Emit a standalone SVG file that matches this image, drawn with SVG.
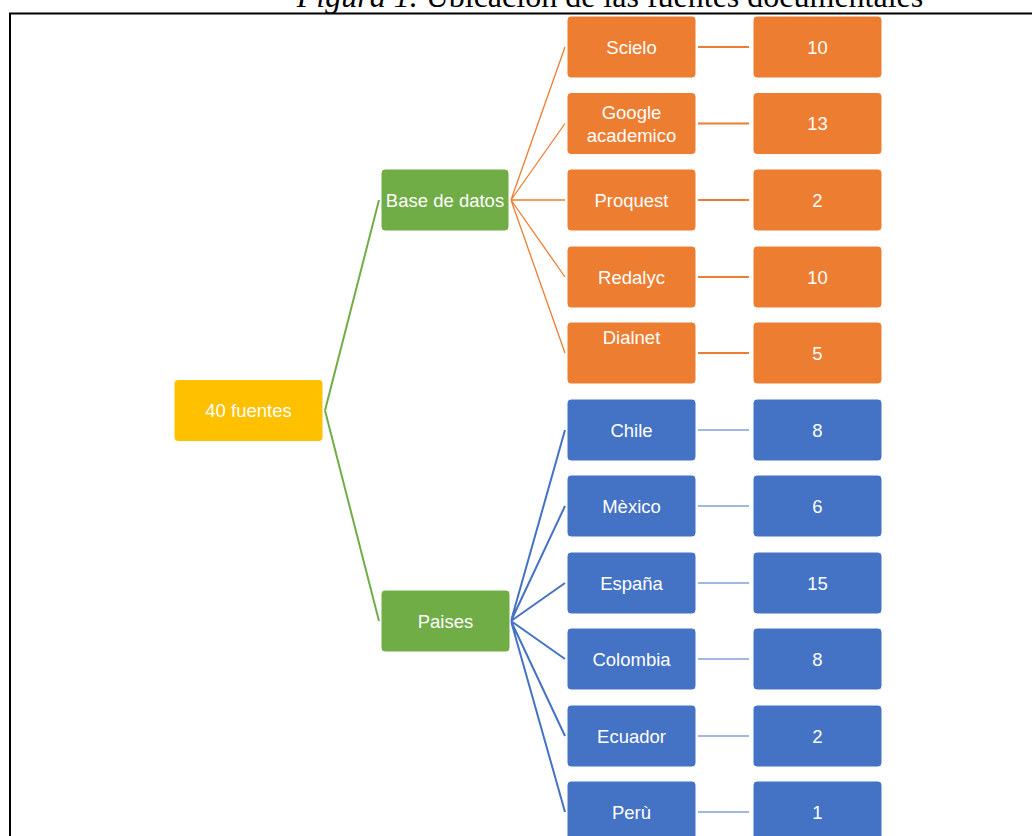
<svg xmlns="http://www.w3.org/2000/svg" width="1032" height="836" viewBox="0 0 1032 836">
<style>
.box{stroke:#fff;stroke-width:1}
.o{fill:#ED7D31}.b{fill:#4472C4}.g{fill:#70AD47}.y{fill:#FFC000}
.t{font-family:"Liberation Sans",Arial,sans-serif;font-size:18.5px;fill:#fff;text-anchor:middle}
.title{font-family:"Liberation Serif","Times New Roman",serif;font-size:32px;fill:#000;text-anchor:middle}
.co{stroke:#ED7D31;fill:none}.cb{stroke:#4472C4;fill:none}.cg{stroke:#70AD47;fill:none;stroke-width:2}
</style>
<rect width="1032" height="836" fill="#fff"/>
<text class="title" x="610" y="7"><tspan font-style="italic">Figura 1.</tspan> Ubicación de las fuentes documentales</text>
<path d="M10 836V13.5H1032" fill="none" stroke="#000" stroke-width="2"/>
<g id="connectors">
<path class="cg" d="M325 410.5L379 200M325 410.5L379 621"/>
<path class="co" stroke-width="1.3" d="M511 200L565 47M511 200L565 123.5M511 200L565 200M511 200L565 277M511 200L565 353"/>
<path class="cb" stroke-width="2" d="M511 621L565 430M511 621L565 506M511 621L565 583M511 621L565 659M511 621L565 736M511 621L565 812"/>
<path class="co" stroke-width="2" d="M698 47H749M698 123.5H749M698 200H749M698 277H749M698 353H749"/>
<path class="cb" stroke-width="1.2" d="M698 430H749M698 506H749M698 583H749M698 659H749M698 736H749M698 812H749"/>
</g>
<g id="n-root"><rect class="box y" x="174" y="379.5" width="149" height="62" rx="4"/><text class="t" x="248.5" y="417">40 fuentes</text></g>
<g id="n-base"><rect class="box g" x="381" y="169" width="128" height="62" rx="4"/><text class="t" x="445" y="206.5">Base de datos</text></g>
<g id="n-paises"><rect class="box g" x="381" y="590" width="129" height="62" rx="4"/><text class="t" x="445.5" y="627.5">Paises</text></g>
<g id="n-scielo"><rect class="box o" x="567" y="16" width="129" height="62" rx="4"/><text class="t" x="631.5" y="53.5">Scielo</text></g>
<g id="n-scielo-v"><rect class="box o" x="753" y="16" width="129" height="62" rx="4"/><text class="t" x="817.5" y="53.5">10</text></g>
<g id="n-google"><rect class="box o" x="567" y="92.5" width="129" height="62" rx="4"/><text class="t" x="631.5" y="119">Google</text><text class="t" x="631.5" y="141.5">academico</text></g>
<g id="n-google-v"><rect class="box o" x="753" y="92.5" width="129" height="62" rx="4"/><text class="t" x="817.5" y="130">13</text></g>
<g id="n-proquest"><rect class="box o" x="567" y="169" width="129" height="62" rx="4"/><text class="t" x="631.5" y="206.5">Proquest</text></g>
<g id="n-proquest-v"><rect class="box o" x="753" y="169" width="129" height="62" rx="4"/><text class="t" x="817.5" y="206.5">2</text></g>
<g id="n-redalyc"><rect class="box o" x="567" y="246" width="129" height="62" rx="4"/><text class="t" x="631.5" y="283.5">Redalyc</text></g>
<g id="n-redalyc-v"><rect class="box o" x="753" y="246" width="129" height="62" rx="4"/><text class="t" x="817.5" y="283.5">10</text></g>
<g id="n-dialnet"><rect class="box o" x="567" y="322" width="129" height="62" rx="4"/><text class="t" x="631.5" y="343.5">Dialnet</text></g>
<g id="n-dialnet-v"><rect class="box o" x="753" y="322" width="129" height="62" rx="4"/><text class="t" x="817.5" y="359.5">5</text></g>
<g id="n-chile"><rect class="box b" x="567" y="399" width="129" height="62" rx="4"/><text class="t" x="631.5" y="436.5">Chile</text></g>
<g id="n-chile-v"><rect class="box b" x="753" y="399" width="129" height="62" rx="4"/><text class="t" x="817.5" y="436.5">8</text></g>
<g id="n-mexico"><rect class="box b" x="567" y="475" width="129" height="62" rx="4"/><text class="t" x="631.5" y="512.5">Mèxico</text></g>
<g id="n-mexico-v"><rect class="box b" x="753" y="475" width="129" height="62" rx="4"/><text class="t" x="817.5" y="512.5">6</text></g>
<g id="n-espana"><rect class="box b" x="567" y="552" width="129" height="62" rx="4"/><text class="t" x="631.5" y="589.5">España</text></g>
<g id="n-espana-v"><rect class="box b" x="753" y="552" width="129" height="62" rx="4"/><text class="t" x="817.5" y="589.5">15</text></g>
<g id="n-colombia"><rect class="box b" x="567" y="628" width="129" height="62" rx="4"/><text class="t" x="631.5" y="665.5">Colombia</text></g>
<g id="n-colombia-v"><rect class="box b" x="753" y="628" width="129" height="62" rx="4"/><text class="t" x="817.5" y="665.5">8</text></g>
<g id="n-ecuador"><rect class="box b" x="567" y="705" width="129" height="62" rx="4"/><text class="t" x="631.5" y="742.5">Ecuador</text></g>
<g id="n-ecuador-v"><rect class="box b" x="753" y="705" width="129" height="62" rx="4"/><text class="t" x="817.5" y="742.5">2</text></g>
<g id="n-peru"><rect class="box b" x="567" y="781" width="129" height="62" rx="4"/><text class="t" x="631.5" y="818.5">Perù</text></g>
<g id="n-peru-v"><rect class="box b" x="753" y="781" width="129" height="62" rx="4"/><text class="t" x="817.5" y="818.5">1</text></g>
</svg>
